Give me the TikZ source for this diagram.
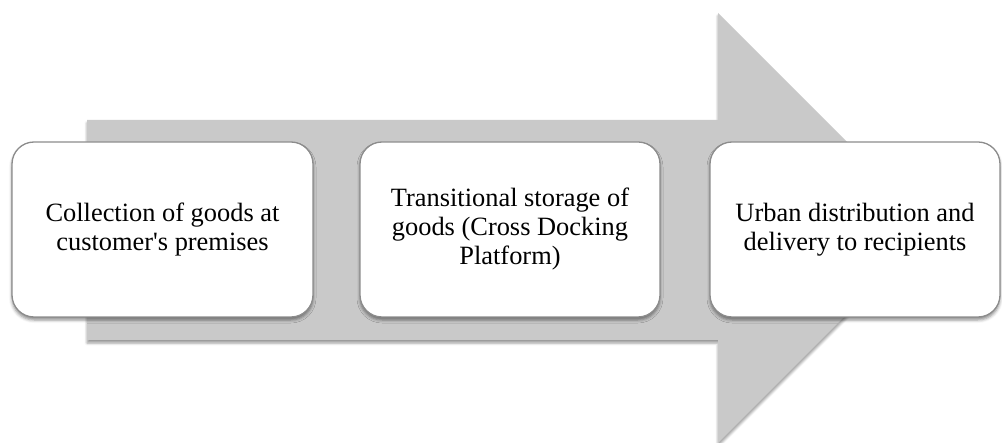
\documentclass[tikz,border=0pt]{standalone}
\usepackage{fontspec}
\setmainfont{Liberation Serif}
\usetikzlibrary{shadows.blur}
\definecolor{arrowgray}{RGB}{201,201,201}
\definecolor{edgegray}{RGB}{140,140,140}
\tikzset{
  stage/.style={draw=edgegray, line width=1.3pt, fill=white, rounded corners=22pt,
    minimum height=175pt, align=center, inner sep=0pt,
    font=\fontsize{26.4pt}{29pt}\selectfont,
    blur shadow={shadow xshift=0pt, shadow yshift=-3pt, shadow blur radius=3pt,
                 shadow opacity=45}},
  bigarrow/.style={fill=arrowgray,
    blur shadow={shadow xshift=0pt, shadow yshift=-3pt, shadow blur radius=2.5pt,
                 shadow opacity=40}}
}
\begin{document}
\begin{tikzpicture}[x=1pt, y=-1pt]
  \useasboundingbox (0,0) rectangle (1002,443);
  % process arrow behind the stages
  \path[bigarrow] (87,120) -- (718,120) -- (718,13) -- (933,228)
     -- (718,443) -- (718,340) -- (87,340) -- cycle;
  % stages
  \node[stage, minimum width=301pt] (collect) at (162.5,229.5)
    {Collection of goods at\\customer\textquotesingle s premises};
  \node[stage, minimum width=300pt] (store) at (510,229.5)
    {Transitional storage of\\goods (Cross Docking\\Platform)};
  \node[stage, minimum width=290pt] (deliver) at (855,229.5)
    {Urban distribution and\\delivery to recipients};
\end{tikzpicture}
\end{document}
